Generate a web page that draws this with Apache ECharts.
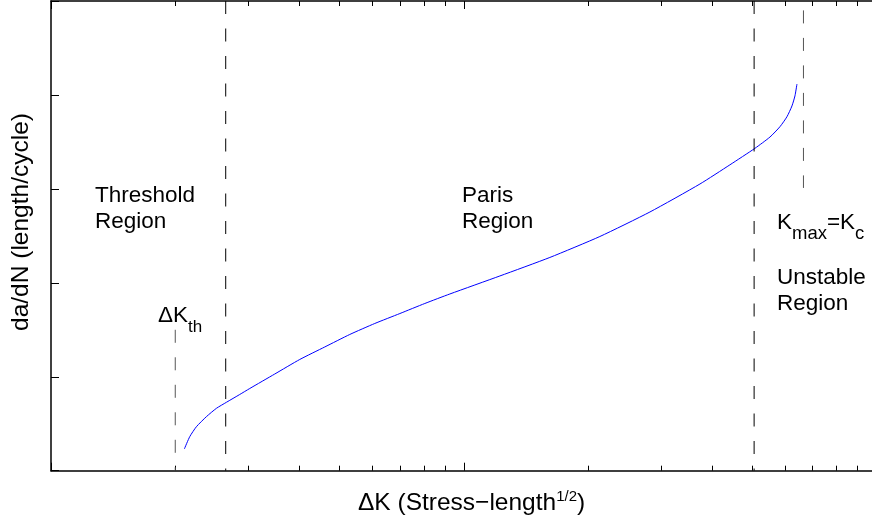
<!DOCTYPE html>
<html>
<head>
<meta charset="utf-8">
<script src="https://cdn.jsdelivr.net/npm/echarts@6/dist/echarts.min.js"></script>
<style>
html, body { margin: 0; padding: 0; background: #fff; }
#chart { width: 872px; height: 522px; }
</style>
</head>
<body>
<div id="chart"></div>
<script>
// da/dN - ΔK curve
var deltaK = [2.104, 2.168, 2.250, 2.379, 2.516, 2.660, 2.865, 3.030, 3.483, 4.005, 4.604, 5.293, 6.085,
    7.00, 8.045, 9.25, 12.23, 16.16, 21.36, 28.24, 37.33, 44.12, 50.74, 55.17, 58.33, 60.65, 62.37, 63.42, 64.13];
var growthRate = [0.231, 0.362, 0.468, 0.575, 0.664, 0.728, 0.811, 0.875, 1.029, 1.184, 1.317, 1.450, 1.567,
    1.673, 1.780, 1.881, 2.073, 2.270, 2.493, 2.754, 3.052, 3.256, 3.432, 3.552, 3.662, 3.768, 3.883, 3.990, 4.116];

// dashed region boundaries: ΔKth, Paris start, Paris end, Kmax=Kc
var boundaryK = [2.0, 2.65, 50.5, 66.5];
var boundaryTop = [1.50, 5, 5, 4.90];
var boundaryBottom = [0, 0, 0, 3.01];
var boundaryColor = ['#555', '#000', '#000', '#555'];

// log axis ticks
var xRange = [1, 100];
var minorTickValues = [2, 3, 4, 5, 6, 7, 8, 9, 20, 30, 40, 50, 60, 70, 80, 90];
var yRange = [0, 5];

var FONT = 'Liberation Sans, Arial, Helvetica, sans-serif';

var chart = echarts.init(document.getElementById('chart'));

function logAxis(pos) {
    return {
        type: 'log',
        logBase: 10,
        min: xRange[0],
        max: xRange[1],
        position: pos,
        axisLine: { show: true, onZero: false, lineStyle: { color: '#000', width: 1.5 } },
        axisTick: { show: true, inside: true, length: 8, lineStyle: { color: '#000', width: 1 } },
        axisLabel: { show: false },
        splitLine: { show: false },
        minorTick: { show: false },
        minorSplitLine: { show: false }
    };
}

// minor ticks live on a plain value axis in log10 units
function minorAxis(pos) {
    return {
        type: 'value',
        min: Math.log10(xRange[0]),
        max: Math.log10(xRange[1]),
        position: pos,
        axisLine: { show: false, onZero: false },
        axisTick: {
            show: true,
            inside: true,
            length: 5,
            lineStyle: { color: '#000', width: 1 },
            customValues: minorTickValues.map(function (v) { return Math.log10(v); })
        },
        axisLabel: { show: false },
        splitLine: { show: false }
    };
}

var series = [{
    type: 'line',
    xAxisIndex: 0,
    yAxisIndex: 0,
    data: deltaK.map(function (k, i) { return [k, growthRate[i]]; }),
    showSymbol: false,
    smooth: 0.2,
    lineStyle: { color: '#0000ff', width: 1 },
    silent: true
}];

boundaryK.forEach(function (k, i) {
    series.push({
        type: 'line',
        xAxisIndex: 0,
        yAxisIndex: 0,
        data: [[k, boundaryTop[i]], [k, boundaryBottom[i]]],
        showSymbol: false,
        lineStyle: { color: boundaryColor[i], width: 1, type: [13, 14.5] },
        silent: true
    });
});

var mainTop = { fontSize: 22.5, fontFamily: FONT, verticalAlign: 'top' };

chart.setOption({
    animation: false,
    backgroundColor: '#fff',
    // the axes run a little past the right edge of the picture
    grid: { left: 51, top: 1, width: 825.6, height: 469.7, containLabel: false, outerBoundsMode: 'none' },
    xAxis: [logAxis('bottom'), logAxis('top'), minorAxis('bottom'), minorAxis('top')],
    yAxis: [{
        type: 'value',
        min: yRange[0],
        max: yRange[1],
        interval: 1,
        position: 'left',
        axisLine: { show: true, onZero: false, lineStyle: { color: '#000', width: 1.5 } },
        axisTick: { show: true, inside: true, length: 8, lineStyle: { color: '#000', width: 1 } },
        axisLabel: { show: false },
        splitLine: { show: false }
    }],
    series: series,
    graphic: [
        {
            type: 'text', x: 95, y: 183,
            style: { text: 'Threshold\nRegion', fontSize: 22.5, fontFamily: FONT, lineHeight: 26, fill: '#000', verticalAlign: 'top' }
        },
        {
            type: 'text', x: 462, y: 183,
            style: { text: 'Paris\nRegion', fontSize: 22.5, fontFamily: FONT, lineHeight: 26, fill: '#000', verticalAlign: 'top' }
        },
        {
            type: 'text', x: 777, y: 265,
            style: { text: 'Unstable\nRegion', fontSize: 22.5, fontFamily: FONT, lineHeight: 26, fill: '#000', verticalAlign: 'top' }
        },
        {
            type: 'text', x: 777, y: 211,
            style: {
                text: '{m|K}{s|max}{m|=K}{s|c}',
                fill: '#000',
                verticalAlign: 'top',
                rich: {
                    m: mainTop,
                    s: { fontSize: 18.5, fontFamily: FONT, verticalAlign: 'top', padding: [13.9, 0, 0, 0] }
                }
            }
        },
        {
            type: 'text', x: 158, y: 304.3,
            style: {
                text: '{m|ΔK}{s|th}',
                fill: '#000',
                verticalAlign: 'top',
                rich: {
                    m: mainTop,
                    s: { fontSize: 17, fontFamily: FONT, verticalAlign: 'top', padding: [14.6, 0, 0, 0] }
                }
            }
        },
        {
            type: 'text', x: 358, y: 515.5,
            style: {
                text: '{m|ΔK (Stress\u2212length}{p|1/2}{m|)}',
                fill: '#000',
                verticalAlign: 'bottom',
                rich: {
                    m: { fontSize: 24.5, fontFamily: FONT, verticalAlign: 'bottom' },
                    p: { fontSize: 15, fontFamily: FONT, verticalAlign: 'bottom', padding: [0, 0, 10.75, 0] }
                }
            }
        },
        {
            type: 'text', x: 21.4, y: 222, rotation: Math.PI / 2,
            style: { text: 'da/dN (length/cycle)', fontSize: 24.5, fontFamily: FONT, fill: '#000', align: 'center', verticalAlign: 'middle' }
        }
    ]
});
</script>
</body>
</html>
